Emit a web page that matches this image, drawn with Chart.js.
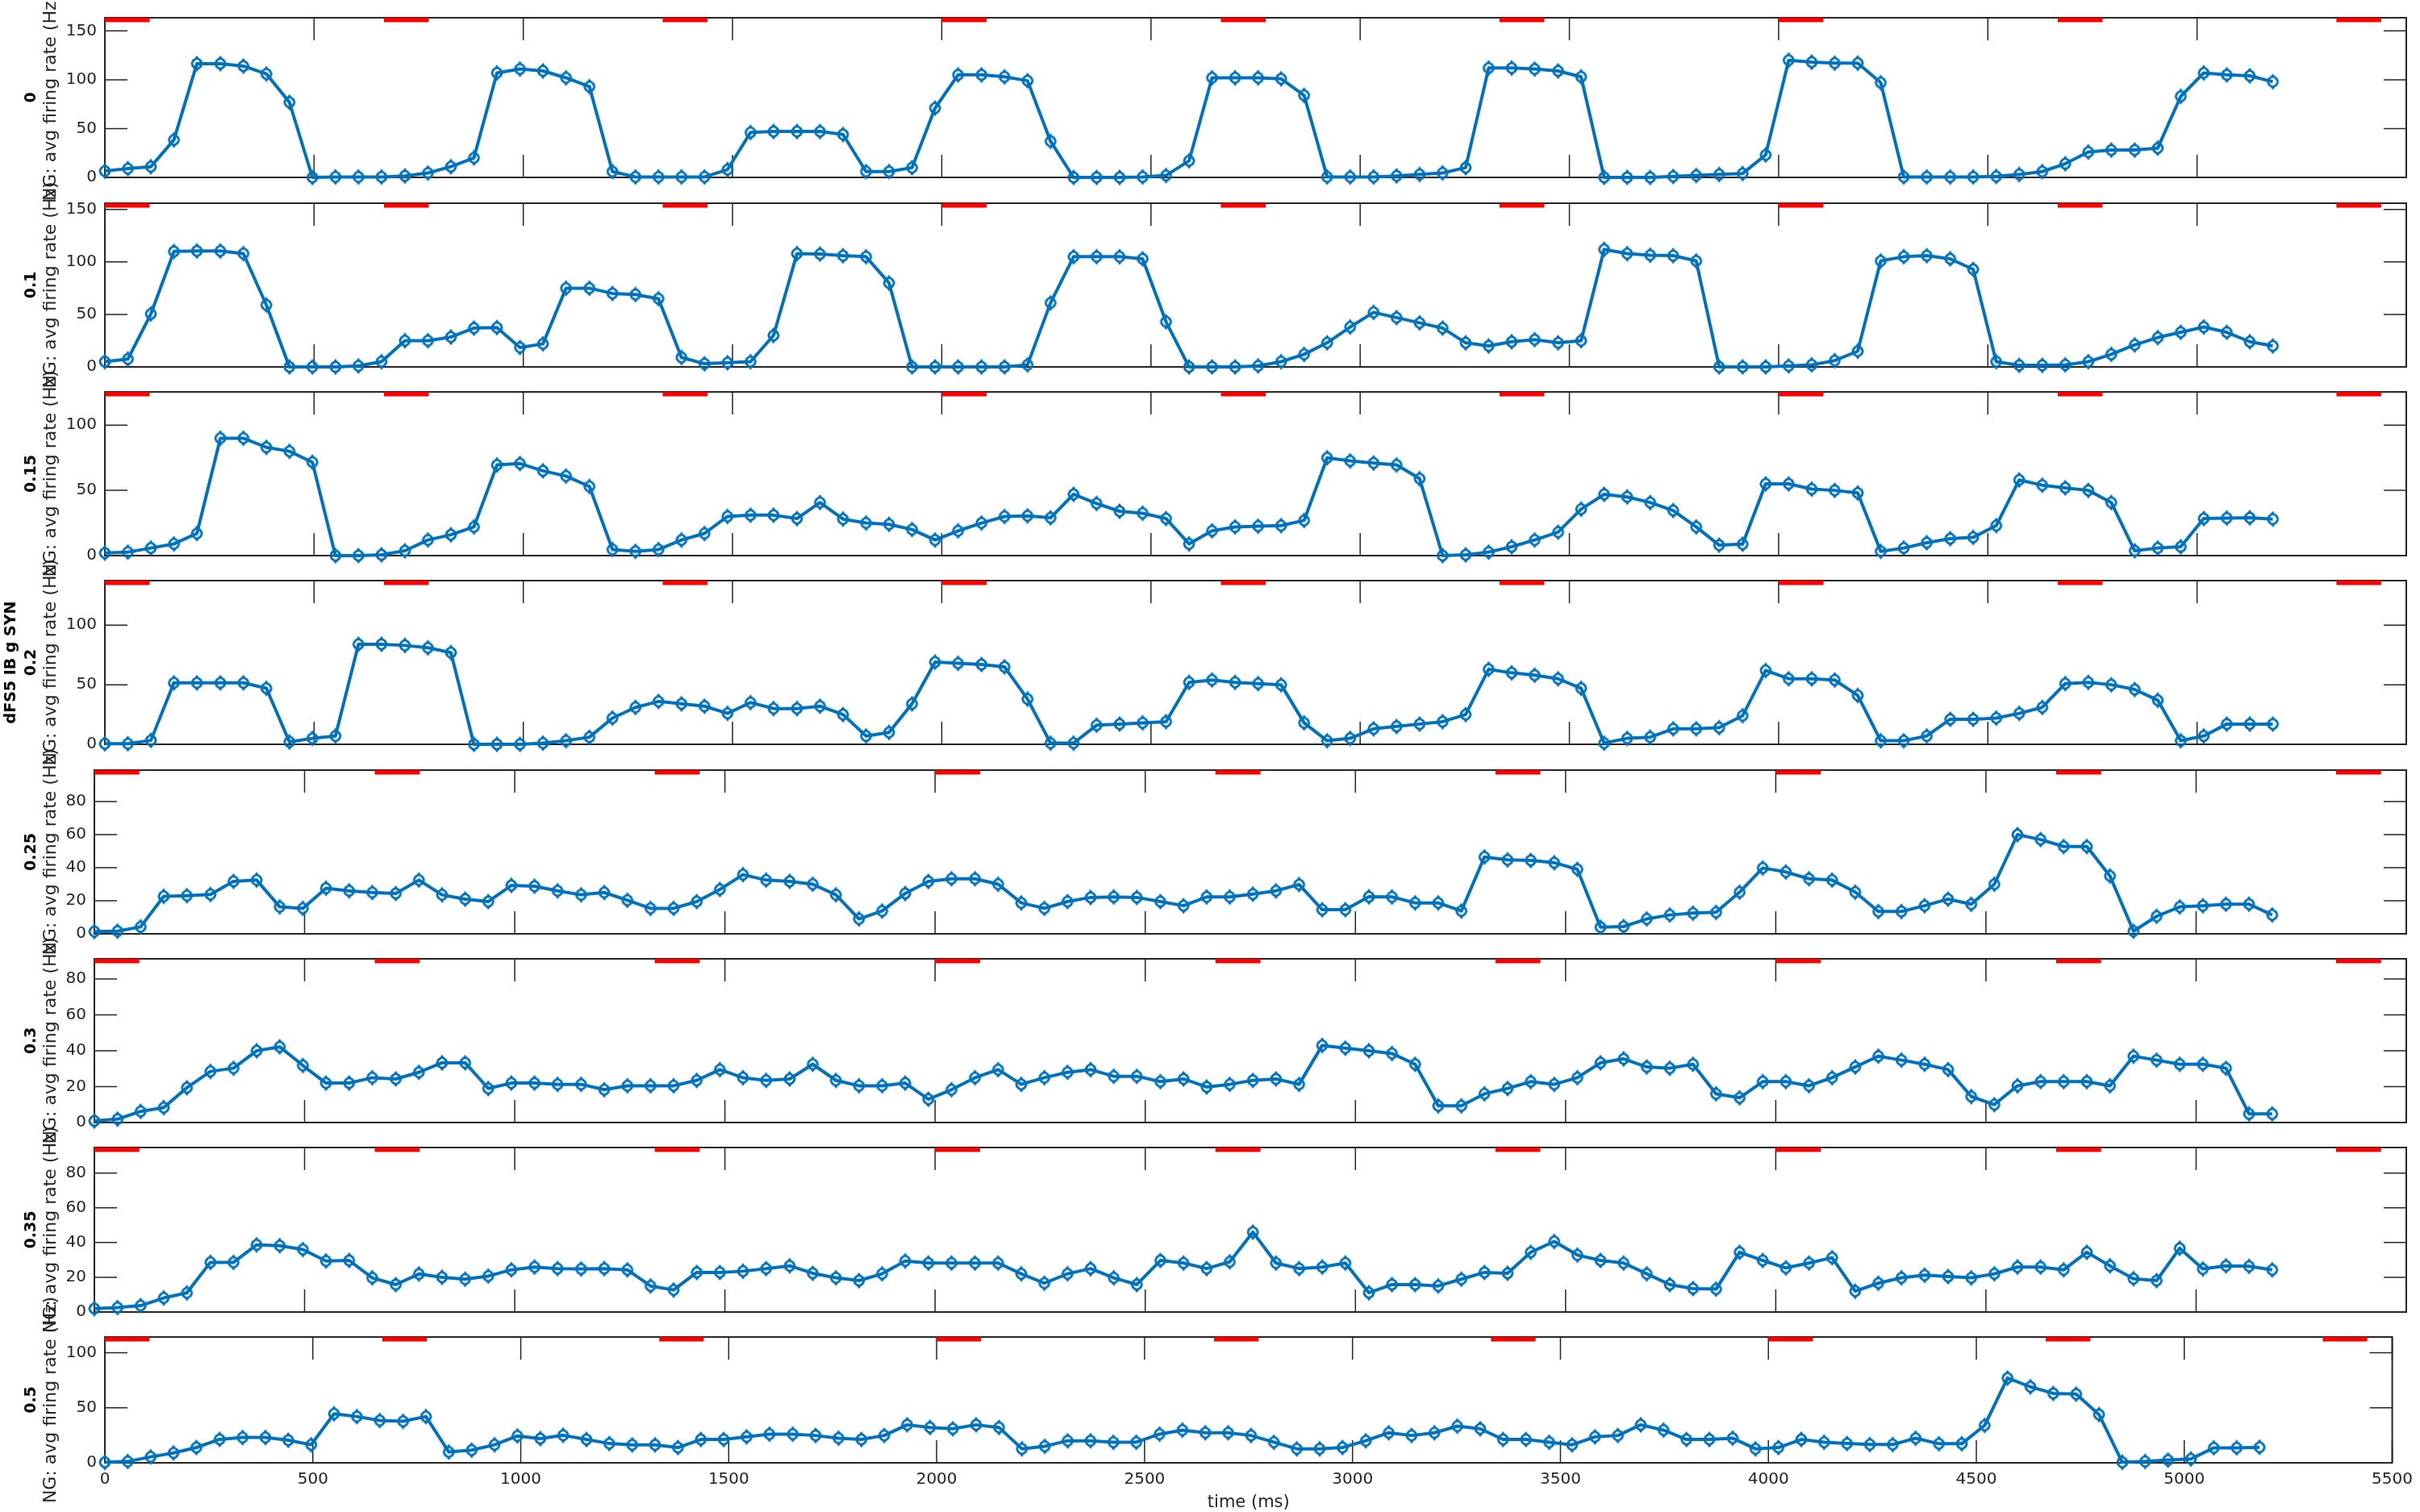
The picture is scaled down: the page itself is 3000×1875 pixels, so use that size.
<!DOCTYPE html>
<html><head><meta charset="utf-8">
<script src="https://cdn.jsdelivr.net/npm/chart.js@4.4.1/dist/chart.umd.min.js"></script>
<style>
html,body{margin:0;padding:0;background:#fff;}
#wrap{position:relative;width:3000px;height:1875px;overflow:hidden;}
#wrap canvas{position:absolute;left:0;top:0;}
</style></head><body><div id="wrap"></div>
<script>
// ---------- data ----------
const timeMs = [0,55,110,165,220,276,331,386,441,496,551,606,661,717,772,827,882,937,992,1047,1102,1158,1213,1268,1323,1378,1433,1488,1543,1598,1654,1709,1764,1819,1874,1929,1984,2039,2095,2150,2205,2260,2315,2370,2425,2480,2536,2591,2646,2701,2756,2811,2866,2921,2976,3032,3087,3142,3197,3252,3307,3362,3417,3473,3528,3583,3638,3693,3748,3803,3858,3914,3969,4024,4079,4134,4189,4244,4299,4354,4410,4465,4520,4575,4630,4685,4740,4795,4851,4906,4961,5016,5071,5126,5181];

const gLabels = [['0'],['0.1'],['0.15'],['dFS5 IB g SYN','0.2'],['0.25'],['0.3'],['0.35'],['0.5']];

const rate_g0 = [6.5,9,11,38.5,116.5,116.5,114,106,77,0, 0.5,0.5,0.5,1.5,4.5,11,20,107,111,109, 102,93,6,0.5,0.5,0.5,0.5,8,46,47, 47,47,44,6,6,10,71,105,105,103, 99,37,0,0,0,0.5,2,17,102,102, 102,101,84,0.5,0.5,0.5,1.5,3,4.6,10, 112,112,111,109,103,0,0,0,1,2, 3,4,23,120,118,117,117,97,0.5,0.5, 0.5,0.5,1,3,6,14,26,28,28,30, 83,107,105,104,98];
const rate_g01 = [5,7.5,50.5,110,110.5,110.5,108,59,0,0, 0,1,5,25,25,28.5,37,37.5,18.5,22, 75,75,70,69,65,9,3,4,5,30, 108,107.5,106,105,80,0,0,0,0,0, 2,61,105,105,105,103,43,0,0,0, 1,5,12,23,38,52,47,42,37,23, 20,24,26,23,25,112,108,106.5,106,101, 0,0,0,1,2,6,15,101,105,106, 103,93,5,1.5,1.5,2,5,12,21,28, 33,38,33,24,20];
const rate_g015 = [2,2.7,5.8,9,17,90,90,83,80,71.6, 0,0,0.6,3.7,12,16,22,69.5,70.6,65, 61,53,4.7,3.3,4.7,12,17,30,31,31, 28.4,40.7,28,25,24,20,12,19,25,30, 30.5,29,47,40,34,32.5,28.4,9,19,22, 22.6,23,27,75,72.6,71,69.5,59,0,0.6, 2.7,6.8,12,18,35.6,47,45,40.7,34.6,22, 8,8.8,55,55,51,50,48,3.3,5.8,9.9, 13,14,23,58,54,52,50,40.7,3.7,5.8, 6.8,28.4,28.8,29,28];
const rate_g02 = [0.5,0.5,3.3,51.6,51.6,51.6,51.6,47,2,5, 7,84,84,83,81,77,0,0,0,1, 3,6,22,31,36,34,32,26,35,30, 30,32,25,7,10,34,69,68,67,65, 38,1,1,16,17,18,19,52,54,52, 51,50,18,3,5,13,15,17,19,25, 63,60,58,55,47,1,5,6,13,13, 14,24,62,55,55,54,41,3,3,7, 21,21,22,26,31,51,52,50,46,37, 3,7,17,17,17];
const rate_g025 = [1.4,1.6,4.2,22.7,23.1,23.8,31.7,32.5,16.3,15.4, 27.6,26,25,24.4,32.5,23.6,21,19.5,29.3,28.8, 26,23.6,25,20.3,15.4,15.4,19.5,26.8,35.8,32.5, 31.7,30,23.6,9,13.8,24.4,31.7,33.3,33.3,30, 18.7,15.4,19.5,22,22.3,22,19.5,17,22.3,22.3, 24,26,29.8,14.6,14.6,22.4,22.3,18.7,18.7,13.8, 46.5,44.7,44.4,43,39,4,4.4,9,11.4,12.5, 13,25.2,39.8,37.4,33.3,32.5,25.2,13.5,13.5,17, 21,17.9,30,60,57,52.8,52.8,35,1.6,10.6, 16.3,17,17.9,17.9,11.4];
const rate_g03 = [0.9,1.9,6.2,8.3,19.4,28.5,30.3,40,42.2,31.8, 22,22,25,24.3,28,33.3,33.3,19,22,22, 21.3,21.3,18.3,20.5,20.5,20.5,23.5,29.5,25,23.5, 24.3,32.5,23.5,20.5,20.5,22,13,18.3,25,29.5, 21.3,25,28,29.5,25.8,25.8,22.8,24.3,19.8,21.3, 23.5,24.3,21.3,43,41.5,40,38.5,32.5,9.3,9.3, 16,19,22.8,21.3,25,33.3,35.5,31,30.3,32.5, 16,13.8,22.8,22.8,20.5,25,31,37,34.8,32.5, 29.5,14.5,10,20.5,22.8,22.8,22.8,20.5,37,34.8, 32.5,32.5,30.3,4.8,4.8];
const rate_g035 = [2,2.6,3.7,8.1,11,28.6,28.6,38.7,38.2,36, 29.4,29.7,19.7,15.8,21.9,20,18.9,20.7,24.3,25.9, 25,24.8,25,24.3,15,12.7,22.8,22.8,23.5,25, 26.6,22.3,19.7,18.1,22,29.4,28.2,28.2,28.2,28.2, 22,16.6,22,25,19.7,15.8,29.7,28.2,25,28.9, 46,28.2,25,25.9,28.2,11.1,15.8,15.8,15,18.9, 22.8,22.3,34.4,40.6,32.8,29.7,28.2,22,15.8,13.5, 13.2,34.4,29.7,25.4,28.2,31.3,12,16.6,19.7,21.2, 20.4,19.7,22,25.9,25.9,24.3,34.4,26.6,19.2,18.1, 36.7,24.8,26.6,26.3,24.3];
const rate_g05 = [0.5,1.2,5.4,9,13.9,21.3,23,23,20.5,16.4, 44.5,42,38.4,37.7,42,9.8,11.5,16.4,24.4,22, 25,21.2,17.5,16.3,16.3,13.9,21.2,21.2,23.6,26, 26,24.8,22.4,21.2,24.8,34.5,32.1,30.9,34.5,32.1, 12.7,15,20,20,18.7,18.7,26,29.7,27.3,27.3, 24.8,18.7,12.7,12.7,13.9,20,27.3,24.8,27.3,33.3, 30.9,21.2,21.2,18.7,16.3,23.6,24.8,34.5,29.7,21.2, 21.2,22.4,12.7,13.9,21.2,18.7,17.5,16.6,16.6,22.3, 17.3,17.3,34,77,69,63,62.4,43.8,0.5,1.2, 2.5,3.5,13.6,13.6,14.1];

const yMax = [163.5,156,125.5,137.4,99,91.3,94.7,114.2];
const yTickSets = [[0,50,100,150],[0,50,100,150],[0,50,100],[0,50,100],[0,20,40,60,80],[0,20,40,60,80],[0,20,40,60,80],[0,50,100]];
const xTicks = [0,500,1000,1500,2000,2500,3000,3500,4000,4500,5000,5500];
const stimOnsets = [0,667,1333,2000,2667,3333,4000,4667,5333];
const stimDur = 107;
const yLabelText = 'NG: avg firing rate (Hz)';
const xLabelText = 'time (ms)';

const seriesList = [rate_g0,rate_g01,rate_g015,rate_g02,rate_g025,rate_g03,rate_g035,rate_g05];

// ---------- layout (pixels) ----------
const W = 3000, H = 1875;
const panelTop    = [17,252,486,720,955,1189,1423,1658];
const panelBottom = [220,455,689,923,1158,1392,1627,1814];
const panelLeft   = [130,130,130,130,117,117,117,130];
const panelRight  = [2983,2983,2983,2983,2983,2983,2983,2971];
const YAXW = 70, XAXH = 62, TL = 28;
const FONT = "'DejaVu Sans', sans-serif";
const AX = '#262626';
const BLUE = '#0072bd';

// marker: open circle with a diamond outline
const marker = document.createElement('canvas');
marker.width = 24; marker.height = 24;
(function () {
  const c = marker.getContext('2d');
  c.strokeStyle = BLUE;
  c.lineWidth = 2.6;
  c.beginPath(); c.arc(12, 12, 6, 0, Math.PI * 2); c.stroke();
  c.lineWidth = 2;
  c.beginPath(); c.moveTo(12, 3.5); c.lineTo(18.5, 12); c.lineTo(12, 20.5); c.lineTo(5.5, 12); c.closePath(); c.stroke();
})();

const panelDeco = {
  id: 'panelDeco',
  beforeDatasetsDraw(chart, args, o) {
    const {ctx, chartArea: a} = chart;
    const x = chart.scales.x, y = chart.scales.y;
    ctx.save();
    ctx.strokeStyle = AX;
    ctx.lineWidth = 1.5;
    ctx.beginPath();
    for (const t of xTicks) {
      const px = x.getPixelForValue(t);
      ctx.moveTo(px, a.bottom); ctx.lineTo(px, a.bottom - TL);
      ctx.moveTo(px, a.top); ctx.lineTo(px, a.top + TL);
    }
    for (const t of o.yTicks) {
      const py = y.getPixelForValue(t);
      ctx.moveTo(a.left, py); ctx.lineTo(a.left + TL, py);
      ctx.moveTo(a.right, py); ctx.lineTo(a.right - TL, py);
    }
    ctx.stroke();
    ctx.lineWidth = 2;
    ctx.strokeRect(a.left, a.top, a.right - a.left, a.bottom - a.top);
    ctx.restore();
  },
  afterDraw(chart, args, o) {
    const {ctx, chartArea: a} = chart;
    const cy = (a.top + a.bottom) / 2;
    ctx.save();
    ctx.translate(0, cy);
    ctx.rotate(-Math.PI / 2);
    ctx.textAlign = 'center';
    ctx.textBaseline = 'alphabetic';
    ctx.fillStyle = AX;
    ctx.font = "22px " + FONT;
    ctx.fillText(yLabelText, 0, 69);
    ctx.fillStyle = '#000';
    ctx.font = "bold 19px " + FONT;
    const lines = o.valueLines;
    for (let k = 0; k < lines.length; k++) {
      const base = 44 - (lines.length - 1 - k) * 25;
      ctx.fillText(lines[k], 0, base);
    }
    ctx.restore();
  }
};

const wrap = document.getElementById('wrap');
for (let i = 0; i < 8; i++) {
  const isLast = i === 7;
  const cv = document.createElement('canvas');
  cv.width = W; cv.height = H;
  cv.style.width = W + 'px'; cv.style.height = H + 'px';
  wrap.appendChild(cv);
  const top = yMax[i];
  const stim = [];
  for (const s of stimOnsets) {
    stim.push({x: s, y: top}, {x: s + stimDur, y: top}, {x: s + stimDur, y: null});
  }
  const pts = timeMs.map((t, k) => ({x: t, y: seriesList[i][k]}));
  new Chart(cv, {
    type: 'line',
    data: {datasets: [
      {data: stim, borderColor: '#ff0000', borderWidth: 11, pointRadius: 0, clip: 0, spanGaps: false, order: 2, borderCapStyle: 'butt'},
      {data: pts, borderColor: BLUE, borderWidth: 4, tension: 0, clip: false, order: 1,
       pointStyle: marker, pointRadius: 6, borderJoinStyle: 'round'}
    ]},
    options: {
      responsive: false, animation: false, devicePixelRatio: 1, events: [],
      layout: {padding: {left: panelLeft[i] - YAXW, right: W - panelRight[i], top: panelTop[i], bottom: H - panelBottom[i] - (isLast ? XAXH : 0)}},
      plugins: {legend: {display: false}, tooltip: {enabled: false},
        panelDeco: {yTicks: yTickSets[i], valueLines: gLabels[i]}},
      scales: {
        x: {type: 'linear', min: 0, max: 5500, display: isLast,
            grid: {display: false, drawTicks: false}, border: {display: false},
            ticks: {font: {family: FONT, size: 20}, color: AX, padding: 9, maxRotation: 0, autoSkip: false,
                    callback: v => String(v)},
            title: {display: isLast, text: xLabelText, font: {family: FONT, size: 21}, color: AX, padding: 0},
            afterBuildTicks: ax => { ax.ticks = xTicks.map(v => ({value: v})); },
            afterFit: s => { s.height = isLast ? XAXH : 0; }},
        y: {type: 'linear', min: 0, max: top,
            grid: {display: false, drawTicks: false}, border: {display: false},
            ticks: {font: {family: FONT, size: 20}, color: AX, padding: 10, callback: v => String(v)},
            afterBuildTicks: ax => { ax.ticks = yTickSets[i].map(v => ({value: v})); },
            afterFit: s => { s.width = YAXW; }}
      }
    },
    plugins: [panelDeco]
  });
}
</script>
</body></html>
